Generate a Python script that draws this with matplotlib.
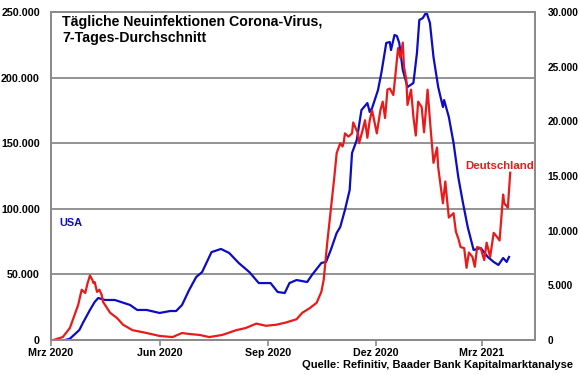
import matplotlib
matplotlib.use("Agg")
import matplotlib.pyplot as plt
from matplotlib.ticker import FuncFormatter, MultipleLocator
import pandas as pd

plt.rcParams['font.family'] = ['Liberation Sans', 'DejaVu Sans']

usa_dates = ["2020-03-13", "2020-03-17", "2020-03-25", "2020-03-28", "2020-04-03", "2020-04-07",
             "2020-04-10", "2020-04-16", "2020-04-24", "2020-05-07", "2020-05-13", "2020-05-21",
             "2020-06-01", "2020-06-10", "2020-06-15", "2020-06-20", "2020-06-26", "2020-07-02",
             "2020-07-07", "2020-07-15", "2020-07-23", "2020-07-30", "2020-08-07", "2020-08-16",
             "2020-08-24", "2020-09-03", "2020-09-09", "2020-09-15", "2020-09-19", "2020-09-25",
             "2020-10-04", "2020-10-08", "2020-10-16", "2020-10-20", "2020-10-24", "2020-10-29",
             "2020-11-01", "2020-11-05", "2020-11-09", "2020-11-11", "2020-11-15", "2020-11-19",
             "2020-11-24", "2020-11-26", "2020-11-28", "2020-12-03", "2020-12-06", "2020-12-10",
             "2020-12-13", "2020-12-14", "2020-12-17", "2020-12-19", "2020-12-21", "2020-12-24",
             "2020-12-28", "2021-01-02", "2021-01-05", "2021-01-07", "2021-01-10", "2021-01-13",
             "2021-01-16", "2021-01-19", "2021-01-23", "2021-01-27", "2021-01-28", "2021-02-01",
             "2021-02-05", "2021-02-09", "2021-02-13", "2021-02-17", "2021-02-22", "2021-02-28",
             "2021-03-06", "2021-03-11", "2021-03-15", "2021-03-19", "2021-03-22", "2021-03-24"]
usa_values = [0, 1000, 7600, 13000, 22900, 29000,
              32000, 30500, 30500, 26700, 22900, 22900,
              20600, 22100, 22100, 26700, 38100, 48000,
              51800, 67000, 69400, 66300, 58700, 51800,
              43400, 43400, 36600, 35800, 43400, 45700,
              44200, 49500, 58700, 59500, 68600, 81600,
              86100, 99100, 114300, 142500, 152400, 175300,
              180600, 173800, 176800, 190500, 204300, 226400,
              227100, 221000, 232500, 231700, 226400, 205800,
              192800, 195900, 218800, 243900, 245400, 250000,
              241600, 215700, 192800, 177600, 182900, 170000,
              150200, 124200, 104400, 86100, 68600, 70100,
              63300, 59500, 57200, 62500, 59500, 63300]

de_dates = ["2020-03-03", "2020-03-11", "2020-03-17", "2020-03-21", "2020-03-24", "2020-03-27",
            "2020-03-30", "2020-04-01", "2020-04-03", "2020-04-05", "2020-04-06", "2020-04-07",
            "2020-04-09", "2020-04-11", "2020-04-13", "2020-04-14", "2020-04-17", "2020-04-20",
            "2020-04-26", "2020-05-01", "2020-05-09", "2020-05-21", "2020-06-01", "2020-06-12",
            "2020-06-20", "2020-06-26", "2020-07-05", "2020-07-13", "2020-07-24", "2020-08-05",
            "2020-08-13", "2020-08-22", "2020-08-30", "2020-09-08", "2020-09-16", "2020-09-25",
            "2020-09-30", "2020-10-06", "2020-10-12", "2020-10-16", "2020-10-18", "2020-10-21",
            "2020-10-24", "2020-10-27", "2020-10-29", "2020-11-01", "2020-11-03", "2020-11-04",
            "2020-11-05", "2020-11-08", "2020-11-11", "2020-11-12", "2020-11-16", "2020-11-17",
            "2020-11-20", "2020-11-22", "2020-11-24", "2020-11-26", "2020-11-28", "2020-12-02",
            "2020-12-05", "2020-12-07", "2020-12-09", "2020-12-11", "2020-12-13", "2020-12-16",
            "2020-12-19", "2020-12-20", "2020-12-22", "2020-12-24", "2020-12-25", "2020-12-27",
            "2020-12-28", "2020-12-31", "2021-01-02", "2021-01-04", "2021-01-06", "2021-01-09",
            "2021-01-11", "2021-01-14", "2021-01-16", "2021-01-19", "2021-01-22", "2021-01-23",
            "2021-01-27", "2021-01-29", "2021-02-01", "2021-02-05", "2021-02-07", "2021-02-09",
            "2021-02-11", "2021-02-14", "2021-02-16", "2021-02-18", "2021-02-21", "2021-02-23",
            "2021-02-25", "2021-02-28", "2021-03-03", "2021-03-05", "2021-03-08", "2021-03-11",
            "2021-03-14", "2021-03-16", "2021-03-19", "2021-03-20", "2021-03-23", "2021-03-25"]
de_values = [0, 270, 1100, 2300, 3200, 4600,
             4300, 5200, 5900, 5500, 5200, 5300,
             4400, 4600, 4100, 3500, 3000, 2500,
             2000, 1400, 900, 640, 370, 270,
             640, 550, 460, 270, 460, 900,
             1100, 1500, 1300, 1400, 1600, 1900,
             2500, 2900, 3400, 4400, 5500, 8900,
             11900, 14900, 17100, 18000, 17700, 18100,
             18900, 18600, 18900, 19900, 18900, 18000,
             19200, 20100, 18500, 20100, 21000, 18900,
             21000, 21800, 20300, 22900, 23000, 22400,
             25600, 26700, 25800, 27200, 25000, 23800,
             21500, 22900, 20400, 18700, 21800, 21300,
             19000, 22900, 20100, 16200, 17600, 15800,
             12500, 14500, 11200, 11600, 9900, 9300,
             8500, 8400, 6600, 8000, 7600, 6700,
             8500, 8400, 7300, 8900, 7600, 9800,
             9400, 9100, 13300, 12500, 12100, 15300]

x_ticks = ["2020-03-01", "2020-06-01", "2020-09-01", "2020-12-01", "2021-03-01"]
x_tick_labels = ["Mrz 2020", "Jun 2020", "Sep 2020", "Dez 2020", "Mrz 2021"]

title = "Tägliche Neuinfektionen Corona-Virus,\n7-Tages-Durchschnitt"
source = "Quelle: Refinitiv, Baader Bank Kapitalmarktanalyse"

BLUE = "#0c0cc4"
RED = "#ea1a1a"
GRID = "#8a8a8a"

fig = plt.figure(figsize=(5.8, 3.75), dpi=100)
ax = fig.add_axes([51/580, 1-340/375, (535-51)/580, (340-12)/375])
ax2 = ax.twinx()

ax.plot(pd.to_datetime(usa_dates), usa_values, color=BLUE, lw=1.6)
ax2.plot(pd.to_datetime(de_dates), de_values, color=RED, lw=1.6)

ax.set_xlim(pd.Timestamp("2020-03-01"), pd.Timestamp("2021-04-15"))
ax.set_ylim(0, 250000)
ax2.set_ylim(0, 30000)
ax.yaxis.set_major_locator(MultipleLocator(50000))
ax2.yaxis.set_major_locator(MultipleLocator(5000))
fmt = FuncFormatter(lambda v, p: f"{int(v):,}".replace(",", "."))
ax.yaxis.set_major_formatter(fmt)
ax2.yaxis.set_major_formatter(fmt)

ax.set_xticks(pd.to_datetime(x_ticks))
ax.set_xticklabels(x_tick_labels)

ax.grid(axis='y', color=GRID, lw=1.3)
ax.set_axisbelow(True)

for a in (ax, ax2):
    for s in a.spines.values():
        s.set_color(GRID)
        s.set_linewidth(1.3)

ax.tick_params(axis='y', length=0, pad=8, labelsize=7.7)
ax2.tick_params(axis='y', length=0, pad=9, labelsize=7.3)
ax.tick_params(axis='x', length=4, direction='out', color=GRID, width=1.2, pad=2, labelsize=7.7)
for lbl in ax.get_yticklabels() + ax2.get_yticklabels() + ax.get_xticklabels():
    lbl.set_fontweight('bold')

fig.text(62/580, 1-15/375, title, ha='left', va='top', fontsize=10.2, fontweight='bold',
         linespacing=1.15)
ax.text(0.017, 100000 - 11000, "USA", transform=ax.get_yaxis_transform(), color=BLUE,
        fontsize=7.9, fontweight='bold', va='center', ha='left')
ax2.text(pd.Timestamp("2021-02-15"), 15900, "Deutschland", color=RED,
         fontsize=8.2, fontweight='bold', va='center', ha='left')
fig.text(573/580, 1-365/375, source, ha='right', va='center', fontsize=8.0, fontweight='bold')

fig.savefig("out.png", dpi=100)
